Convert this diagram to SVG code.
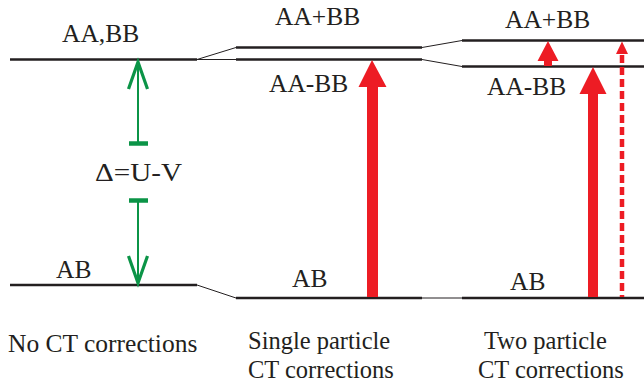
<svg xmlns="http://www.w3.org/2000/svg" width="644" height="389" viewBox="0 0 644 389">
<style>
.t{font-family:'Liberation Serif','Times New Roman',serif;font-size:25.5px;fill:#231f20}
.b{font-size:24.5px}
.lvl{stroke:#231f20;stroke-width:2.6;fill:none}
.con{stroke:#231f20;stroke-width:1;fill:none}
.grn{stroke:#0b9447;stroke-width:2;fill:none}
.gbar{stroke:#0b9447;stroke-width:4.5;fill:none}
.ghead{stroke:#0b9447;stroke-width:3.2;fill:none;stroke-linejoin:miter}
.red{fill:#ed1c24}
</style>
<rect width="644" height="389" fill="#ffffff"/>
<g id="connectors">
<line class="con" x1="197" y1="59.5" x2="236" y2="47.5"/>
<line class="con" x1="197" y1="59.5" x2="236" y2="59.5"/>
<line class="con" x1="197" y1="285" x2="236" y2="298"/>
<line class="con" x1="422" y1="47.5" x2="462" y2="40.5"/>
<line class="con" x1="422" y1="59.5" x2="462" y2="66.5"/>
<line class="con" x1="422" y1="298" x2="462" y2="298" stroke="#888"/>
</g>
<g id="col1">
<line class="lvl" x1="10" y1="59.5" x2="197" y2="59.5"/>
<line class="lvl" x1="10" y1="285" x2="197" y2="285"/>
<text class="t" x="62" y="42">AA,BB</text>
<text class="t" x="56" y="278">AB</text>
<text class="t" x="95" y="181" textLength="87" lengthAdjust="spacingAndGlyphs">Δ=U-V</text>
<text class="t" x="8" y="352">No CT corrections</text>
</g>
<g id="gap-arrow">
<line class="grn" x1="138" y1="62" x2="138" y2="143"/>
<line class="gbar" x1="129" y1="143.5" x2="148" y2="143.5"/>
<polyline class="ghead" points="128.5,89 138,62 147.5,89"/>
<line class="grn" x1="138" y1="200.5" x2="138" y2="283"/>
<line class="gbar" x1="129" y1="200.5" x2="148" y2="200.5"/>
<polyline class="ghead" points="128.5,256 138,283 147.5,256"/>
</g>
<g id="col2">
<line class="lvl" x1="236" y1="47.5" x2="422" y2="47.5"/>
<line class="lvl" x1="236" y1="59.5" x2="422" y2="59.5"/>
<line class="lvl" x1="236" y1="298" x2="422" y2="298"/>
<text class="t" x="275" y="25">AA+BB</text>
<text class="t" x="269" y="92">AA-BB</text>
<text class="t" x="292" y="287">AB</text>
<text class="t b" x="248" y="349">Single particle</text>
<text class="t b" x="248" y="378">CT corrections</text>
<polygon class="red" points="372,60 386.5,87 378,87 378,297 367,297 367,87 358.5,87"/>
</g>
<g id="col3">
<line class="lvl" x1="462" y1="40.5" x2="644" y2="40.5"/>
<line class="lvl" x1="462" y1="66.5" x2="644" y2="66.5"/>
<line class="lvl" x1="462" y1="298" x2="644" y2="298"/>
<text class="t" x="505" y="28">AA+BB</text>
<text class="t" x="487" y="95">AA-BB</text>
<text class="t" x="510" y="290">AB</text>
<text class="t b" x="484" y="349">Two particle</text>
<text class="t b" x="478" y="378">CT corrections</text>
<polygon class="red" points="593,67 606.5,94 598,94 598,297 588,297 588,94 579.5,94"/>
<polygon class="red" points="548,41 558.5,61 552,61 552,66 544,66 544,61 537.5,61"/>
<polygon class="red" points="622,41.5 628,54 616,54"/>
<line x1="622" y1="55" x2="622" y2="297" stroke="#ed1c24" stroke-width="4.5" stroke-dasharray="8 4"/>
</g>
</svg>
